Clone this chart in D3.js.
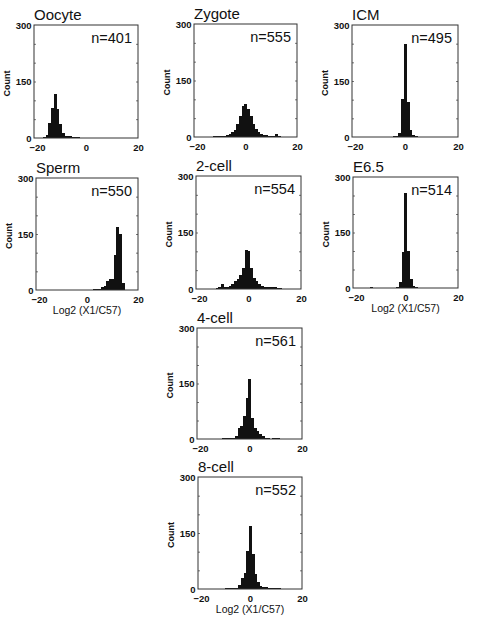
<!DOCTYPE html>
<html>
<head>
<meta charset="utf-8">
<script src="https://cdn.jsdelivr.net/npm/d3@7"></script>
<style>
  body { margin: 0; background: #fff; }
  svg { display: block; }
</style>
</head>
<body>
<svg id="chart" width="492" height="630"></svg>
<script>
// Bin centres, Log2 (X1/C57), one unit wide
const binCenters = [
  -19, -18, -17, -16, -15, -14, -13, -12, -11, -10,
  -9, -8, -7, -6, -5, -4, -3, -2, -1, 0,
  1, 2, 3, 4, 5, 6, 7, 8, 9, 10,
  11, 12, 13, 14, 15, 16, 17, 18, 19
];

const stages = ["Oocyte", "Zygote", "ICM", "Sperm", "2-cell", "E6.5", "4-cell", "8-cell"];
const stageN = [401, 555, 495, 550, 554, 514, 561, 552];

// counts per bin
const countsOocyte = [
  0, 0, 0, 2, 8, 40, 80, 118, 76, 38,
  12, 6, 5, 4, 3, 2, 2, 1, 1, 1,
  0, 1, 0, 0, 1, 0, 0, 0, 0, 0,
  0, 0, 0, 0, 0, 0, 0, 0, 0
];
const countsZygote = [
  0, 0, 0, 1, 1, 1, 1, 2, 2, 2,
  2, 3, 5, 9, 12, 18, 35, 55, 82, 88,
  75, 55, 35, 20, 12, 9, 5, 4, 3, 2,
  3, 7, 2, 1, 1, 1, 0, 0, 0
];
const countsICM = [
  0, 0, 0, 0, 0, 0, 0, 0, 0, 0,
  0, 0, 1, 1, 1, 2, 3, 12, 102, 250,
  95, 18, 6, 2, 1, 1, 0, 0, 0, 0,
  0, 0, 0, 0, 0, 0, 0, 0, 0
];
const countsSperm = [
  0, 0, 0, 0, 0, 0, 0, 0, 0, 0,
  0, 0, 0, 0, 0, 0, 0, 0, 1, 1,
  1, 1, 2, 3, 4, 7, 12, 23, 30, 30,
  95, 170, 150, 20, 0, 0, 0, 0, 0
];
const counts2cell = [
  0, 0, 0, 0, 1, 1, 1, 2, 4, 12,
  5, 5, 9, 12, 20, 27, 38, 55, 104, 100,
  55, 30, 22, 14, 9, 5, 4, 4, 4, 4,
  3, 2, 1, 1, 0, 0, 0, 0, 0
];
const countsE65 = [
  0, 0, 0, 0, 0, 1, 2, 1, 0, 0,
  0, 0, 0, 0, 1, 1, 3, 15, 97, 258,
  100, 25, 6, 2, 1, 1, 0, 0, 0, 0,
  0, 0, 0, 0, 0, 0, 0, 0, 0
];
const counts4cell = [
  0, 0, 0, 0, 0, 0, 0, 0, 0, 2,
  2, 2, 3, 4, 9, 29, 36, 61, 111, 161,
  57, 30, 21, 14, 7, 3, 2, 1, 2, 2,
  2, 0, 0, 0, 0, 0, 0, 0, 0
];
const counts8cell = [
  0, 0, 0, 0, 0, 0, 0, 0, 0, 1,
  2, 2, 3, 3, 4, 11, 29, 43, 101, 168,
  95, 40, 20, 7, 6, 5, 3, 3, 2, 2,
  2, 0, 0, 0, 0, 0, 0, 0, 0
];
const stageCounts = [countsOocyte, countsZygote, countsICM, countsSperm,
  counts2cell, countsE65, counts4cell, counts8cell];

const yTicks = [0, 150, 300];
const yMinorTicks = [50, 100, 150, 200, 250];
const xTicks = [-20, 0, 20];
const xLabelText = "Log2 (X1/C57)";
const yLabelText = "Count";

// frame of each panel, as placed on the (slightly skewed) page
const layout = [
  { x: 34, y: 25, w: 104, h: 113 },
  { x: 194, y: 24, w: 103, h: 113 },
  { x: 352, y: 25, w: 106, h: 112 },
  { x: 36, y: 178, w: 102, h: 112 },
  { x: 196, y: 176, w: 105, h: 113 },
  { x: 353, y: 177, w: 105, h: 111 },
  { x: 197, y: 328, w: 105, h: 111 },
  { x: 198, y: 477, w: 104, h: 112 }
];
const showXLabel = [false, false, false, true, false, true, false, true];

const font = "'Liberation Sans', Arial, Helvetica, sans-serif";
const svg = d3.select("#chart");

stages.forEach((name, i) => {
  const box = layout[i];
  const x = d3.scaleLinear().domain([-20, 20]).range([box.x, box.x + box.w]);
  const y = d3.scaleLinear().domain([0, 300]).range([box.y + box.h, box.y]);

  const g = svg.append("g").attr("class", "panel");

  const bins = binCenters
    .map((c, j) => ({ c, v: stageCounts[i][j] }))
    .filter(d => d.v > 0);

  // filled histogram: bars touch, so draw them as one solid shape
  g.append("g")
      .attr("shape-rendering", "crispEdges")
    .selectAll("rect")
    .data(bins)
    .join("rect")
      .attr("x", d => x(d.c - 0.5))
      .attr("width", d => x(d.c + 0.5) - x(d.c - 0.5) + 0.6)
      .attr("y", d => y(d.v))
      .attr("height", d => y(0) - y(d.v))
      .attr("fill", "#111");

  // small inward ticks on the frame
  g.append("g")
      .attr("transform", `translate(${box.x},0)`)
    .call(d3.axisRight(y).tickValues(yMinorTicks).tickSize(2).tickFormat(""))
    .call(a => a.select(".domain").remove())
    .selectAll("line").attr("stroke", "#777");

  g.append("g")
      .attr("transform", `translate(${box.x + box.w},0)`)
    .call(d3.axisLeft(y).tickValues(yMinorTicks).tickSize(2).tickFormat(""))
    .call(a => a.select(".domain").remove())
    .selectAll("line").attr("stroke", "#777");

  g.append("rect")
    .attr("x", box.x)
    .attr("y", box.y)
    .attr("width", box.w)
    .attr("height", box.h)
    .attr("fill", "none")
    .attr("stroke", "#333")
    .attr("stroke-width", 1);

  const yAxis = g.append("g")
      .attr("transform", `translate(${box.x},0)`)
    .call(d3.axisLeft(y).tickValues(yTicks).tickSize(0).tickPadding(2.5))
    .call(a => a.select(".domain").remove());
  yAxis.selectAll("text")
    .attr("font-family", font)
    .attr("font-size", 9.5)
    .attr("font-weight", "bold")
    .attr("fill", "#111");

  const xAxis = g.append("g")
      .attr("transform", `translate(0,${box.y + box.h})`)
    .call(d3.axisBottom(x).tickValues(xTicks).tickSize(0).tickPadding(6.5))
    .call(a => a.select(".domain").remove());
  xAxis.selectAll("text")
    .attr("font-family", font)
    .attr("font-size", 9.5)
    .attr("font-weight", "bold")
    .attr("fill", "#111")
    .attr("dx", d => d < 0 ? 3 : 0);

  g.append("text")
    .attr("x", box.x)
    .attr("y", box.y - 5)
    .attr("font-family", font)
    .attr("font-size", 15)
    .attr("fill", "#111")
    .text(name);

  g.append("text")
    .attr("x", box.x + box.w - 6)
    .attr("y", box.y + 17.5)
    .attr("text-anchor", "end")
    .attr("font-family", font)
    .attr("font-size", 14.5)
    .attr("fill", "#111")
    .text(`n=${stageN[i]}`);

  g.append("text")
    .attr("transform", `translate(${box.x - 24},${box.y + box.h / 2 + 2}) rotate(-90)`)
    .attr("text-anchor", "middle")
    .attr("font-family", font)
    .attr("font-size", 9)
    .attr("font-weight", "bold")
    .attr("fill", "#111")
    .text(yLabelText);

  if (showXLabel[i]) {
    g.append("text")
      .attr("x", box.x + box.w / 2)
      .attr("y", box.y + box.h + 24)
      .attr("text-anchor", "middle")
      .attr("font-family", font)
      .attr("font-size", 10.5)
      .attr("fill", "#111")
      .text(xLabelText);
  }
});
</script>
</body>
</html>
